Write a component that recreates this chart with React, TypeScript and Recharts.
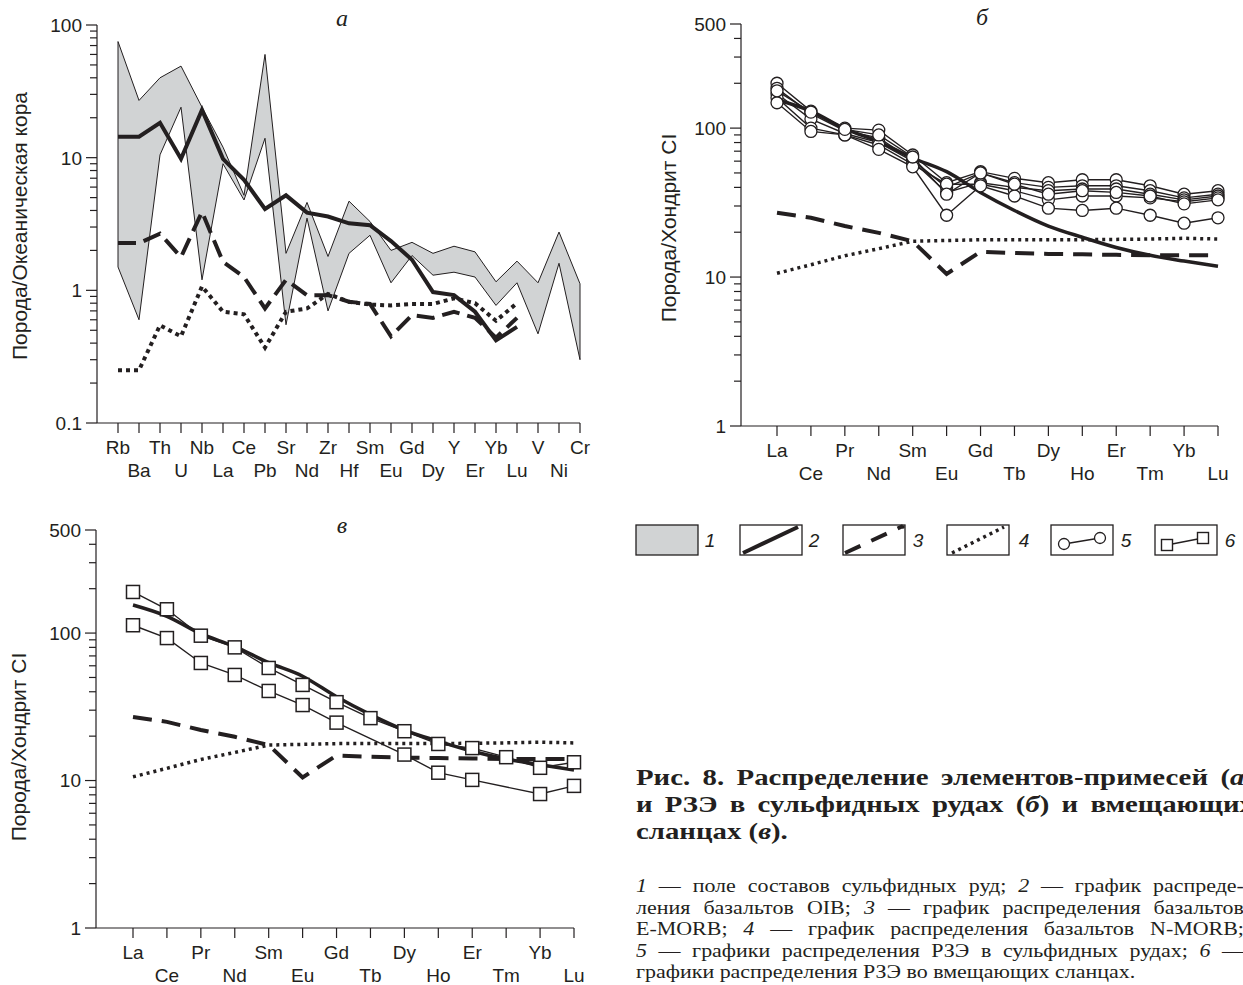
import React from 'react';
import { ComposedChart, LineChart, Line, Area, XAxis, YAxis, ReferenceLine } from 'recharts';

const INK = '#231f20';
const FIELD = '#d1d3d4';
const SANS = '"Liberation Sans", Arial, sans-serif';
const SERIF = '"Liberation Serif", "Times New Roman", serif';

// panel а — trace elements, rock / oceanic crust
const traceElements = ['Rb', 'Ba', 'Th', 'U', 'Nb', 'La', 'Ce', 'Pb', 'Sr', 'Nd', 'Zr', 'Hf', 'Sm', 'Eu', 'Gd', 'Dy', 'Y', 'Er', 'Yb', 'Lu', 'V', 'Ni', 'Cr'];
const oreFieldTop = [75, 27, 40, 49, 24, 12, 5.2, 60, 1.9, 4.6, 1.8, 4.7, 3.3, 2.0, 2.3, 1.9, 2.15, 1.95, 1.16, 1.66, 1.14, 2.75, 1.12];
const oreFieldBottom = [1.5, 0.6, 10.5, 24, 1.2, 9, 4.8, 14, 0.55, 3.5, 0.7, 1.9, 2.6, 1.14, 1.83, 1.3, 1.37, 1.26, 0.77, 1.14, 0.47, 1.6, 0.3];
const oibTrace = [14.4, 14.4, 18.3, 9.8, 22.9, 9.8, 6.8, 4.1, 5.2, 3.85, 3.6, 3.2, 3.1, 2.35, 1.7, 0.97, 0.92, 0.69, 0.42, 0.53, null, null, null];
const emorbTrace = [2.27, 2.27, 2.67, 1.78, 3.9, 1.64, 1.26, 0.73, 1.2, 0.92, 0.92, 0.82, 0.79, 0.45, 0.65, 0.62, 0.69, 0.62, 0.44, 0.62, null, null, null];
const nmorbTrace = [0.25, 0.25, 0.545, 0.45, 1.07, 0.69, 0.66, 0.37, 0.69, 0.73, 0.94, 0.82, 0.78, 0.77, 0.79, 0.79, 0.87, 0.8, 0.59, 0.8, null, null, null];
const traceTicks = [0.1, 0.2, 0.3, 0.4, 0.5, 0.6, 0.7, 0.8, 0.9, 1, 2, 3, 4, 5, 6, 7, 8, 9, 10, 20, 30, 40, 50, 60, 70, 80, 90, 100];
const traceLabels = [0.1, 1, 10, 100];

// panels б, в — REE, rock / chondrite CI
const reeElements = ['La', 'Ce', 'Pr', 'Nd', 'Sm', 'Eu', 'Gd', 'Tb', 'Dy', 'Ho', 'Er', 'Tm', 'Yb', 'Lu'];
const oibRee = [155, 130, 99, 81, 63, 51, 37, 28, 22, 18.5, 15.8, 14, 12.8, 11.8];
const emorbRee = [27, 25, 22, 19.8, 17.4, 10.5, 14.8, 14.5, 14.3, 14.2, 14.1, 14.0, 14.0, 14.0];
const nmorbRee = [10.6, 12.1, 13.9, 15.5, 17.4, 17.6, 17.8, 17.8, 17.8, 17.8, 17.9, 18.0, 18.2, 18.0];

// sulphide ores (circles)
const ore1 = [200, 130, 100, 97, 66, 43, 51, 46, 43, 45, 45, 41, 36, 38];
const ore2 = [185, 125, 96, 86, 61, 40, 50, 43, 40, 41, 41, 38, 34, 36];
const ore3 = [170, 115, 92, 80, 60, 37, 43, 40, 38, 39, 39, 36, 33, 35];
const ore4 = [160, 100, 90, 77, 57, 42, 42, 38, 33, 35, 35, 34, 32, 34];
const ore5 = [148, 95, 90, 72, 55, 26, 41, 35, 29, 28, 29, 26, 23, 25];
const ore6 = [178, 128, 98, 90, 64, 36, 50, 42, 36, 38, 37, 35, 31, 33];

// host shales (squares)
const shale1 = [190, 145, 96, 80, 58, 44.5, 34, 26.5, 21.6, 17.7, 16.6, 14.4, 12.2, 13.3];
const shale2 = [113, 92.5, 62.7, 52, 40.5, 32.5, 24.7, null, 15, 11.3, 10.1, null, 8.1, 9.2];

const reeTicks = [1, 2, 3, 4, 5, 6, 7, 8, 9, 10, 20, 30, 40, 50, 60, 70, 80, 90, 100, 200, 300, 400, 500];
const reeLabels = [1, 10, 100, 500];

// caption lines, *...* marks italic
const captionLines = [
  'Рис. 8. Распределение элементов-примесей (*а*)',
  'и РЗЭ в сульфидных рудах (*б*) и вмещающих',
  'сланцах (*в*).',
];
const noteLines = [
  '*1* — поле составов сульфидных руд; *2* — график распреде-',
  'ления базальтов OIB; *3* — график распределения базальтов',
  'E-MORB; *4* — график распределения базальтов N-MORB;',
  '*5* — графики распределения РЗЭ в сульфидных рудах; *6* —',
  'графики распределения РЗЭ во вмещающих сланцах.',
];

const traceData = traceElements.map((el, i) => ({
  el,
  field: [oreFieldBottom[i], oreFieldTop[i]],
  oib: oibTrace[i],
  emorb: emorbTrace[i],
  nmorb: nmorbTrace[i],
}));

const oreSeries = [ore1, ore2, ore3, ore4, ore5, ore6];
const oreData = reeElements.map((el, i) => {
  const row: any = { el, oib: oibRee[i], emorb: emorbRee[i], nmorb: nmorbRee[i] };
  oreSeries.forEach((s, k) => { row['s' + k] = s[i]; });
  return row;
});
const shaleData = reeElements.map((el, i) => ({
  el, oib: oibRee[i], emorb: emorbRee[i], nmorb: nmorbRee[i], a: shale1[i], b: shale2[i],
}));

function LogTick(props: any) {
  const { x, y, payload, labels } = props;
  const v = payload.value;
  const major = labels.includes(v);
  return (
    <g>
      <line x1={x - (major ? 11 : 7)} x2={x} y1={y} y2={y} stroke={INK} strokeWidth={1.2} />
      {major && (
        <text x={x - 15} y={y} dy="0.36em" textAnchor="end" fontSize={19} fontFamily={SANS} fill={INK}>
          {String(v)}
        </text>
      )}
    </g>
  );
}

function ElTick(props: any) {
  const { x, y, payload, index } = props;
  return (
    <g>
      <line x1={x} x2={x} y1={y} y2={y + 10} stroke={INK} strokeWidth={1.2} />
      <text x={x} y={y + (index % 2 ? 54 : 31)} textAnchor="middle" fontSize={19} fontFamily={SANS} fill={INK}>
        {payload.value}
      </text>
    </g>
  );
}

function SquareDot(props: any) {
  const { cx, cy } = props;
  if (cx == null || cy == null) return null;
  return <rect x={cx - 6.5} y={cy - 6.5} width={13} height={13} fill="#fff" stroke={INK} strokeWidth={1.5} />;
}

const axisLine = { stroke: INK, strokeWidth: 1.2 };

function TracePanel() {
  return (
    <ComposedChart width={620} height={490} data={traceData} margin={{ top: 25, right: 40, bottom: 0, left: 0 }}>
      <XAxis dataKey="el" interval={0} tickLine={false} axisLine={axisLine} tickSize={0} tickMargin={0}
        padding={{ left: 21, right: 0 }} height={67} tick={(p: any) => <ElTick {...p} />} />
      <YAxis type="number" scale="log" domain={[0.1, 100]} allowDataOverflow ticks={traceTicks} interval={0}
        width={97} tickLine={false} axisLine={axisLine} tickSize={0} tickMargin={0}
        tick={(p: any) => <LogTick {...p} labels={traceLabels} />} />
      <Area dataKey="field" type="linear" fill={FIELD} fillOpacity={1} stroke={INK} strokeWidth={1} isAnimationActive={false} />
      <ReferenceLine segment={[{ x: traceElements[0], y: oreFieldBottom[0] }, { x: traceElements[0], y: oreFieldTop[0] }]} stroke={INK} strokeWidth={1} />
      <ReferenceLine segment={[{ x: traceElements[22], y: oreFieldBottom[22] }, { x: traceElements[22], y: oreFieldTop[22] }]} stroke={INK} strokeWidth={1} />
      <Line dataKey="nmorb" type="linear" stroke={INK} strokeWidth={4} strokeDasharray="4 4" dot={false} isAnimationActive={false} />
      <Line dataKey="emorb" type="linear" stroke={INK} strokeWidth={4} strokeDasharray="18 8" dot={false} isAnimationActive={false} />
      <Line dataKey="oib" type="linear" stroke={INK} strokeWidth={4} dot={false} isAnimationActive={false} />
    </ComposedChart>
  );
}

function OrePanel() {
  return (
    <LineChart width={603} height={490} data={oreData} margin={{ top: 24, right: 25, bottom: 0, left: 0 }}>
      <XAxis dataKey="el" interval={0} tickLine={false} axisLine={axisLine} tickSize={0} tickMargin={0}
        padding={{ left: 36, right: 0 }} height={64} tick={(p: any) => <ElTick {...p} />} />
      <YAxis type="number" scale="log" domain={[1, 500]} allowDataOverflow ticks={reeTicks} interval={0}
        width={101} tickLine={false} axisLine={axisLine} tickSize={0} tickMargin={0}
        tick={(p: any) => <LogTick {...p} labels={reeLabels} />} />
      <Line dataKey="nmorb" type="linear" stroke={INK} strokeWidth={3.5} strokeDasharray="3 4" dot={false} isAnimationActive={false} />
      <Line dataKey="emorb" type="linear" stroke={INK} strokeWidth={4} strokeDasharray="19 10" dot={false} isAnimationActive={false} />
      <Line dataKey="oib" type="monotone" stroke={INK} strokeWidth={3.5} dot={false} isAnimationActive={false} />
      {oreSeries.map((_, k) => (
        <Line key={k} dataKey={'s' + k} type="linear" stroke={INK} strokeWidth={1.4}
          dot={{ r: 6, fill: '#fff', stroke: INK, strokeWidth: 1.3 }} isAnimationActive={false} />
      ))}
    </LineChart>
  );
}

function ShalePanel() {
  return (
    <LineChart width={620} height={485} data={shaleData} margin={{ top: 30, right: 46, bottom: 0, left: 0 }}>
      <XAxis dataKey="el" interval={0} tickLine={false} axisLine={axisLine} tickSize={0} tickMargin={0}
        padding={{ left: 37, right: 0 }} height={57} tick={(p: any) => <ElTick {...p} />} />
      <YAxis type="number" scale="log" domain={[1, 500]} allowDataOverflow ticks={reeTicks} interval={0}
        width={96} tickLine={false} axisLine={axisLine} tickSize={0} tickMargin={0}
        tick={(p: any) => <LogTick {...p} labels={reeLabels} />} />
      <Line dataKey="nmorb" type="linear" stroke={INK} strokeWidth={3.5} strokeDasharray="3 4" dot={false} isAnimationActive={false} />
      <Line dataKey="emorb" type="linear" stroke={INK} strokeWidth={4} strokeDasharray="19 10" dot={false} isAnimationActive={false} />
      <Line dataKey="oib" type="monotone" stroke={INK} strokeWidth={3.5} dot={false} isAnimationActive={false} />
      <Line dataKey="a" type="linear" stroke={INK} strokeWidth={1.4} dot={(p: any) => <SquareDot key={p.index} {...p} />} isAnimationActive={false} />
      <Line dataKey="b" type="linear" connectNulls stroke={INK} strokeWidth={1.4} dot={(p: any) => <SquareDot key={p.index} {...p} />} isAnimationActive={false} />
    </LineChart>
  );
}

function Legend() {
  const box = (x: number) => <rect x={x} y={15} width={62} height={30} fill="#fff" stroke={INK} strokeWidth={1.3} />;
  const num = (x: number, t: string) => (
    <text x={x} y={37} textAnchor="middle" fontSize={19} fontStyle="italic" fontFamily={SANS} fill={INK}>{t}</text>
  );
  return (
    <svg width={623} height={70} style={{ position: 'absolute', left: 620, top: 510 }}>
      <rect x={16} y={15} width={62} height={30} fill={FIELD} stroke={INK} strokeWidth={1.3} />
      {num(90, '1')}
      {box(120)}
      <line x1={123} y1={43} x2={178} y2={17} stroke={INK} strokeWidth={4} />
      {num(194, '2')}
      {box(223)}
      <line x1={225} y1={43} x2={283} y2={16} stroke={INK} strokeWidth={4} strokeDasharray="17 12" />
      <circle cx={283} cy={17} r={1.8} fill={INK} />
      {num(298, '3')}
      {box(327)}
      <line x1={332} y1={43} x2={384} y2={17} stroke={INK} strokeWidth={3.5} strokeDasharray="3 4" />
      {num(404, '4')}
      {box(431)}
      <line x1={444} y1={34} x2={480} y2={28} stroke={INK} strokeWidth={1.4} />
      <circle cx={444} cy={34} r={5.5} fill="#fff" stroke={INK} strokeWidth={1.3} />
      <circle cx={480} cy={28} r={5.5} fill="#fff" stroke={INK} strokeWidth={1.3} />
      {num(506, '5')}
      {box(535)}
      <line x1={547} y1={35} x2={583} y2={28} stroke={INK} strokeWidth={1.4} />
      <rect x={541.5} y={29.5} width={11} height={11} fill="#fff" stroke={INK} strokeWidth={1.4} />
      <rect x={577.5} y={22.5} width={11} height={11} fill="#fff" stroke={INK} strokeWidth={1.4} />
      {num(610, '6')}
    </svg>
  );
}

const abs = (left: number, top: number): React.CSSProperties => ({ position: 'absolute', left, top });

function VTitle({ x, y, text }: { x: number; y: number; text: string }) {
  return (
    <div style={{ position: 'absolute', left: x, top: y, transform: 'translate(-50%, -50%) rotate(-90deg)',
      whiteSpace: 'nowrap', fontFamily: SANS, fontSize: 21, color: INK, lineHeight: 1 }}>
      {text}
    </div>
  );
}

function Letter({ x, y, text }: { x: number; y: number; text: string }) {
  return (
    <div style={{ position: 'absolute', left: x, top: y, transform: 'translate(-50%, -50%)',
      fontFamily: SERIF, fontStyle: 'italic', fontSize: 24, color: INK, lineHeight: 1 }}>
      {text}
    </div>
  );
}

function Word({ w }: { w: string }) {
  const parts = w.split('*');
  return (
    <span style={{ whiteSpace: 'pre' }}>
      {parts.map((p, i) => (i % 2 ? <i key={i}>{p}</i> : <React.Fragment key={i}>{p}</React.Fragment>))}
    </span>
  );
}

// each line justified by flex so it never wraps; the block is widened with scaleX
function TextBlock({ lines, left, top, width, scale, style }: any) {
  return (
    <div style={{ position: 'absolute', left, top, width: width / scale, transform: `scaleX(${scale})`,
      transformOrigin: '0 0', color: INK, ...style }}>
      {lines.map((ln: string, i: number) => {
        const last = i === lines.length - 1;
        const words = ln.split(' ');
        return last ? (
          <div key={i} style={{ whiteSpace: 'pre' }}>
            {words.map((w, k) => <React.Fragment key={k}>{k ? ' ' : ''}<Word w={w} /></React.Fragment>)}
          </div>
        ) : (
          <div key={i} style={{ display: 'flex', justifyContent: 'space-between' }}>
            {words.map((w, k) => <Word key={k} w={w} />)}
          </div>
        );
      })}
    </div>
  );
}

export default function App() {
  return (
    <div style={{ position: 'absolute', left: 0, top: 0, width: 1243, height: 985, overflow: 'hidden', background: '#fff' }}>
      <div style={abs(0, 0)}><TracePanel /></div>
      <div style={abs(640, 0)}><OrePanel /></div>
      <div style={abs(0, 500)}><ShalePanel /></div>
      <Legend />
      <VTitle x={19} y={226} text="Порода/Океаническая кора" />
      <VTitle x={668} y={228} text="Порода/Хондрит CI" />
      <VTitle x={18} y={747} text="Порода/Хондрит CI" />
      <Letter x={342} y={18} text="а" />
      <Letter x={982} y={17} text="б" />
      <Letter x={342} y={525} text="в" />
      <TextBlock lines={captionLines} left={636} top={764} width={618} scale={1.2}
        style={{ fontFamily: SERIF, fontWeight: 700, fontSize: 24, lineHeight: '27px' }} />
      <TextBlock lines={noteLines} left={636} top={876} width={608} scale={1.22}
        style={{ fontFamily: SERIF, fontSize: 18, lineHeight: '21.5px' }} />
    </div>
  );
}
